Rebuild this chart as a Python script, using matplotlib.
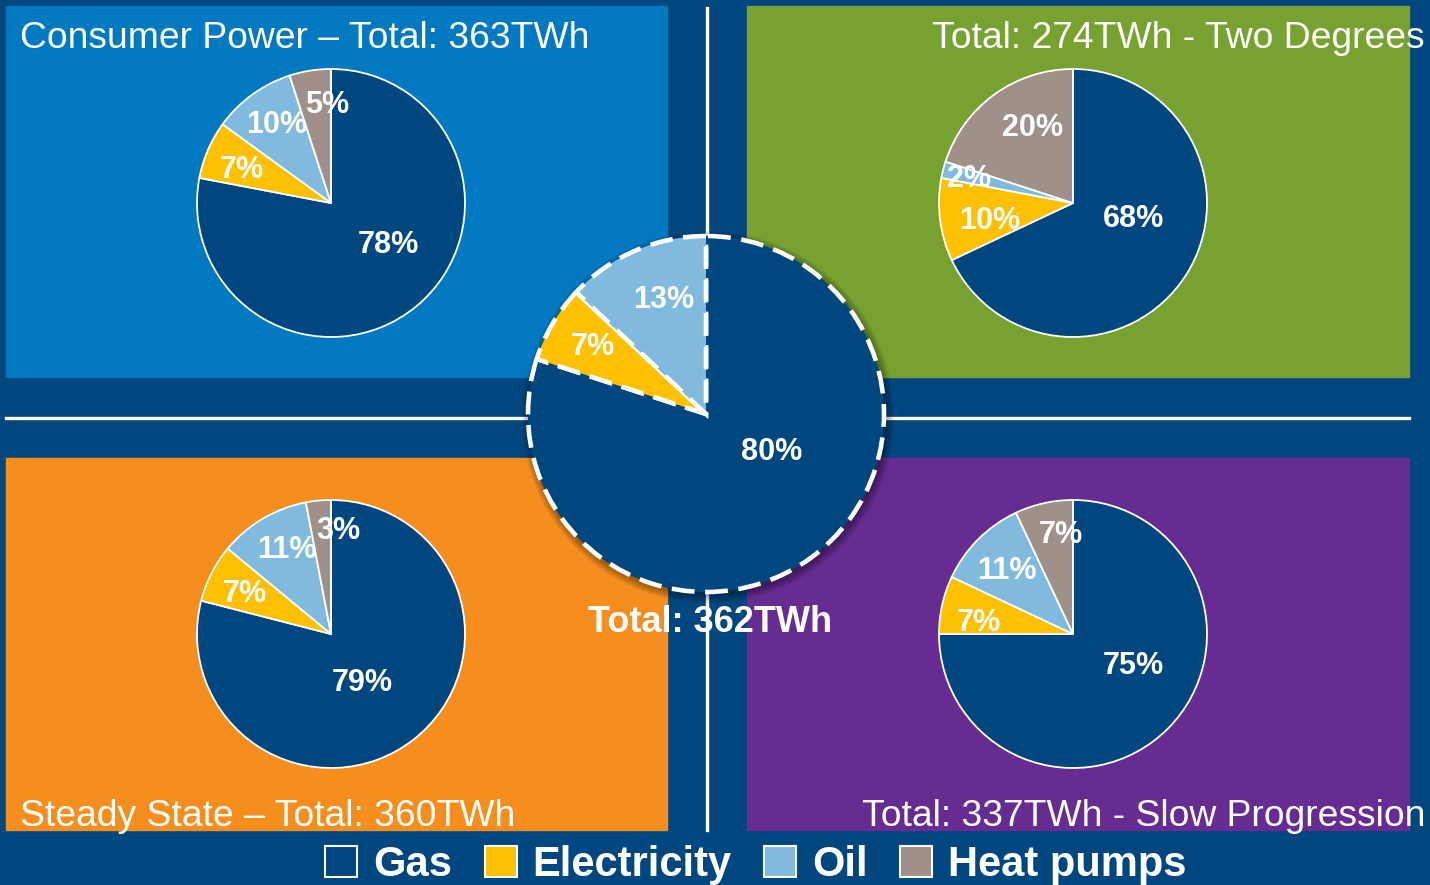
import numpy as np
import matplotlib.pyplot as plt
import matplotlib.patches as pat

# data
fuels = ["Gas", "Electricity", "Oil", "Heat pumps"]
consumer_power = [78, 7, 10, 5]
two_degrees = [68, 10, 2, 20]
steady_state = [79, 7, 11, 3]
slow_progression = [75, 7, 11, 7]
today = [80, 7, 13]

titles = ["Consumer Power \u2013 Total: 363TWh", "Total: 274TWh - Two Degrees",
          "Steady State \u2013 Total: 360TWh", "Total: 337TWh - Slow Progression"]
center_title = "Total: 362TWh"

# colours
bg = "#00467f"
fuel_cols = ["#00467f", "#ffc000", "#80badf", "#a0908a"]
panel_cols = ["#0079c1", "#77a22f", "#f68e1e", "#672c91"]

W, H = 1430, 885
def Y(y):
    return H - y

fig = plt.figure(figsize=(14.3, 8.85), dpi=100)
fig.patch.set_facecolor(bg)
ax = fig.add_axes([0, 0, 1, 1])
ax.set_facecolor(bg)

# quadrant panels (x0, y0 top, x1, y1 bottom in px)
panels = [(6, 6, 667, 377), (747, 6, 1409, 377), (6, 458, 667, 830), (747, 458, 1409, 830)]
for (x0, y0, x1, y1), c in zip(panels, panel_cols):
    ax.add_patch(pat.Rectangle((x0, Y(y1)), x1 - x0, y1 - y0, color=c, zorder=1))

# white dividers
ax.plot([707, 707], [Y(8), Y(830)], color="white", lw=2.4, zorder=2)
ax.plot([6, 1409], [Y(418), Y(418)], color="white", lw=2.4, zorder=2)


def draw_pie(vals, center, r, lab_pos, lw, ls="-", z=3):
    # lab_pos: (fraction of radius, angle in degrees) for each percentage label
    wedges, _, autot = ax.pie(vals, colors=fuel_cols[:len(vals)], startangle=90,
                              counterclock=False, center=center, radius=r,
                              autopct="%d%%",
                              wedgeprops=dict(edgecolor="white", linewidth=lw,
                                              linestyle=ls),
                              textprops=dict(color="white", fontsize=22,
                                             fontweight="bold",
                                             family="Liberation Sans"))
    for w in wedges:
        w.set_zorder(z)
    for t, (d, ang) in zip(autot, lab_pos):
        a = np.radians(ang)
        t.set_position((center[0] + d * r * np.cos(a), center[1] + d * r * np.sin(a)))
        t.set_verticalalignment("center_baseline")
        t.set_zorder(z + 1)
    return wedges


R = 134
draw_pie(consumer_power, (331, Y(203)), R,
         [(0.515, -34), (0.72, 158), (0.73, 124), (0.755, 92)], 1.3)
draw_pie(two_degrees, (1073, Y(203)), R,
         [(0.465, -12), (0.63, 190), (0.8, 165), (0.66, 117)], 1.3)
draw_pie(steady_state, (331, Y(634)), R,
         [(0.41, -55), (0.72, 153), (0.73, 117), (0.80, 86)], 1.3)
draw_pie(slow_progression, (1073, Y(634)), R,
         [(0.5, -25), (0.71, 171), (0.70, 135), (0.77, 97)], 1.3)

# soft shadow under centre pie
cx, cy, cr = 706, Y(414), 178
for k in range(6):
    ax.add_patch(pat.Circle((cx + 2, cy - 3), cr + 8 - k * 1.5, color="black",
                            alpha=0.07, lw=0, zorder=4))
draw_pie(today, (cx, cy), cr, [(0.415, -28), (0.75, 148), (0.70, 110)],
         3.3, ls=(0, (5, 2.3)), z=5)

# titles
tfont = dict(color="white", fontsize=26.8, family="Liberation Sans", va="baseline")
ax.text(20, Y(48), titles[0], ha="left", **tfont)
ax.text(1425, Y(48), titles[1], ha="right", **tfont)
ax.text(20, Y(826), titles[2], ha="left", **tfont)
ax.text(1425, Y(826), titles[3], ha="right", **tfont)
ax.text(710, Y(619), center_title, ha="center", va="center_baseline", color="white",
        fontsize=26, fontweight="bold", family="Liberation Sans", zorder=7)

ax.set_xlim(0, W)
ax.set_ylim(0, H)
ax.set_aspect("equal")
ax.axis("off")

# legend
handles = [pat.Patch(facecolor=c, edgecolor="white", lw=1.5) for c in fuel_cols]
fig.legend(handles, fuels, loc="center", bbox_to_anchor=(756 / W, 1 - 865 / H),
           ncol=4, frameon=False, handlelength=0.77, handleheight=0.77,
           handletextpad=0.38, columnspacing=0.78,
           prop=dict(family="Liberation Sans", weight="bold", size=30),
           labelcolor="white")

fig.savefig("out.png", dpi=100, facecolor=bg)
